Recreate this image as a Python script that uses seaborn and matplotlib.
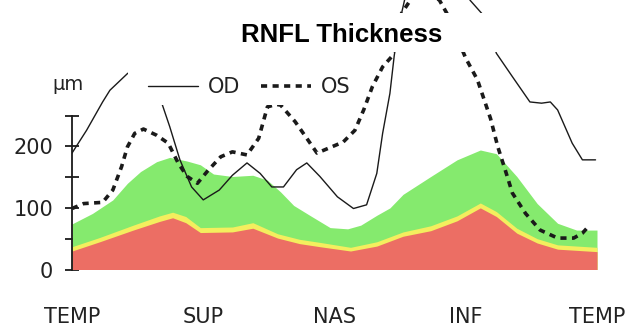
import matplotlib
matplotlib.use("Agg")
import matplotlib.pyplot as plt
import seaborn as sns
from matplotlib.patches import Rectangle

# ---------------- data (angle in degrees along the scan circle, thickness in µm) -------------
OD_ANGLE = [0, 10, 21, 26, 38, 47, 53, 62, 67, 74, 82, 90, 101, 110, 120, 129, 137, 145, 154, 161,
            170, 182, 193, 202, 209, 213, 218, 221, 226, 228, 239, 252, 263, 273, 282, 291, 302, 314,
            322, 328, 333, 338, 343, 350, 359]
OD_UM = [189, 226, 272, 291, 318, 332, 312, 267, 232, 178, 134, 113, 129, 153, 173, 156, 134, 134, 162, 173,
         151, 118, 99, 105, 156, 221, 286, 348, 416, 437, 500, 510, 480, 437, 413, 351, 313, 272,
         270, 272, 259, 232, 205, 178, 178]

OS_ANGLE = [0, 8, 21, 28, 34, 38, 43, 49, 58, 66, 73, 79, 86, 93, 102, 110, 120, 128, 134, 140,
            143, 153, 161, 168, 176, 186, 194, 200, 206, 213, 219, 226, 232, 242, 252, 257, 270, 278,
            287, 292, 297, 302, 311, 321, 333, 344, 350, 355]
OS_UM = [99, 107, 109, 129, 167, 199, 221, 228, 218, 205, 172, 151, 140, 160, 183, 191, 186, 213, 264, 268,
         267, 240, 213, 189, 197, 207, 226, 259, 297, 329, 345, 416, 437, 455, 437, 416, 343, 308,
         245, 199, 162, 124, 91, 64, 51, 51, 59, 72]

GREEN_ANGLE = [0, 14, 28, 38, 47, 58, 67, 79, 88, 97, 110, 124, 134, 143, 152, 163, 177, 189, 198, 209,
               218, 227, 246, 264, 280, 291, 305, 319, 333, 346, 360]
GREEN_UM = [74, 91, 113, 140, 159, 175, 182, 176, 170, 155, 151, 153, 145, 126, 104, 88, 68, 66, 72, 88,
            100, 122, 151, 178, 194, 188, 151, 107, 75, 64, 64]

BAND_ANGLE = [0, 19, 42, 60, 69, 78, 88, 110, 124, 141, 156, 170, 191, 209, 227, 246, 264, 280, 291, 305,
              319, 333, 360]
YELLOW_UM = [37, 52, 72, 87, 93, 86, 68, 69, 76, 58, 49, 44, 36, 45, 61, 71, 87, 108, 94, 67,
             50, 40, 36]
RED_UM = [30, 45, 64, 78, 84, 76, 60, 61, 67, 51, 42, 37, 30, 38, 54, 63, 79, 100, 86, 59,
          43, 33, 29]

X_TICKS = [0, 90, 180, 270, 360]
X_LABELS = ["TEMP", "SUP", "NAS", "INF", "TEMP"]
Y_TICKS = [0, 50, 100, 150, 200, 250]
Y_LABELS = ["0", "", "100", "", "200", ""]
TITLE = "RNFL Thickness"
UNIT = "μm"
SERIES = ["OD", "OS"]

# ---------------- style ----------------
sns.set_theme(style="white")
plt.rcParams["font.family"] = ["DejaVu Sans"]

W, H = 629, 331
fig = plt.figure(figsize=(W / 100, H / 100), dpi=100)
fig.patch.set_facecolor("white")
ax = fig.add_axes([72 / W, 1 - 269.5 / H, 525 / W, 269.5 / H])
ax.set_facecolor("none")

GREEN, YELLOW, RED = "#85ea6e", "#f4ee5e", "#ec6e64"
INK = "#1a1a1a"

ax.fill_between(GREEN_ANGLE, 0, GREEN_UM, color=GREEN, lw=0, zorder=1)
ax.fill_between(BAND_ANGLE, 0, YELLOW_UM, color=YELLOW, lw=0, zorder=2)
ax.fill_between(BAND_ANGLE, 0, RED_UM, color=RED, lw=0, zorder=3)

sns.lineplot(x=OD_ANGLE, y=OD_UM, ax=ax, color=INK, lw=1.0, zorder=4)
sns.lineplot(x=OS_ANGLE, y=OS_UM, ax=ax, color=INK, lw=2.6, zorder=5)
od_line, os_line = ax.lines[0], ax.lines[1]
os_line.set_dashes([1.7, 1.5])

ax.set_xlim(0, 360)
ax.set_ylim(0, 437.5)
for s in ["top", "right", "bottom"]:
    ax.spines[s].set_visible(False)
ax.spines["left"].set_bounds(0, 250)
ax.spines["left"].set_linewidth(1.3)
ax.spines["left"].set_color(INK)
ax.spines["left"].set_zorder(6)

ax.set_yticks(Y_TICKS)
ax.set_yticklabels(Y_LABELS)
ax.tick_params(axis="y", left=True, direction="inout", length=9.4, width=1.3,
               color=INK, labelsize=15, pad=9, labelcolor="#222222")
ax.set_xticks(X_TICKS)
ax.set_xticklabels(X_LABELS)
ax.tick_params(axis="x", bottom=False, length=0, pad=27, labelsize=15, labelcolor="#222222")
ax.set_xlabel("")
ax.set_ylabel("")

# white boxes behind title and legend (they hide the curves there)
for (x0, y0, x1, y1) in [(128, 52, 358, 105), (225, 13, 505, 52)]:
    ax.add_patch(Rectangle((x0 / W, 1 - y1 / H), (x1 - x0) / W, (y1 - y0) / H,
                           transform=fig.transFigure, facecolor="white", edgecolor="none",
                           clip_on=False, zorder=8))

leg = ax.legend([od_line, os_line], SERIES, ncol=2, frameon=False, loc="center left",
                bbox_to_anchor=(138 / W, 1 - 87 / H), bbox_transform=fig.transFigure,
                borderpad=0, handlelength=2.4, handletextpad=0.45, columnspacing=1.0,
                fontsize=15, labelcolor="#222222")
leg.set_zorder(9)

fig.text(342 / W, 1 - 42 / H, TITLE, ha="center", va="baseline", fontsize=18.5,
         fontweight="bold", family=["Liberation Sans", "DejaVu Sans"], color="black", zorder=10)
fig.text(68 / W, 1 - 90 / H, UNIT, ha="center", va="baseline", fontsize=14,
         color="#222222", zorder=10)

fig.savefig("out.png", dpi=100, facecolor="white")
